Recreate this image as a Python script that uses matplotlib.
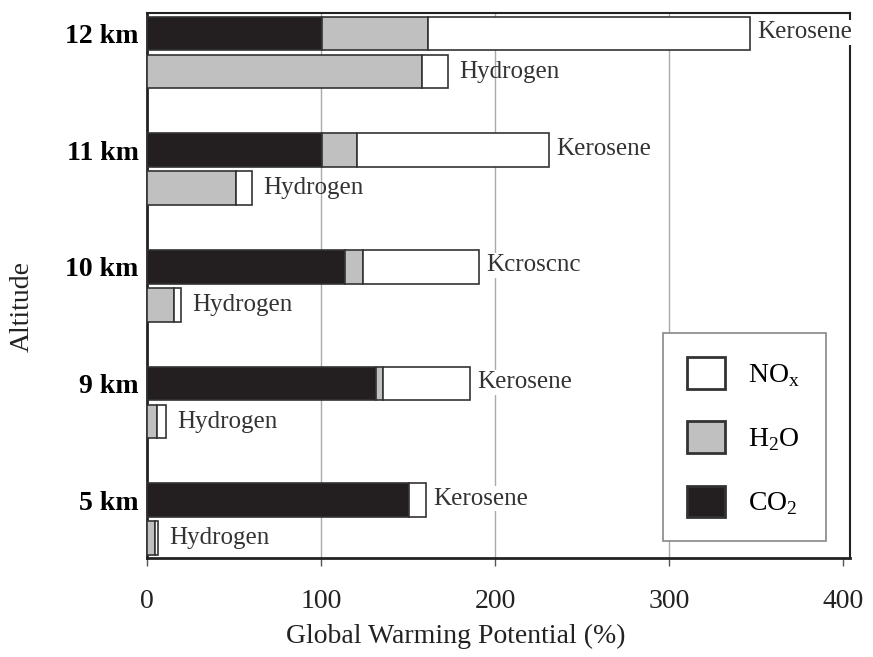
import matplotlib
matplotlib.use("Agg")
import matplotlib.pyplot as plt
from matplotlib.patches import Patch

altitudes = ["12 km", "11 km", "10 km", "9 km", "5 km"]
# Kerosene segments (widths)
ker_co2 = [100.5, 100.4, 114, 131.4, 150.6]
ker_h2o = [61, 20.5, 10, 4.4, 0]
ker_nox = [185, 110, 67, 50, 9.7]
# Hydrogen segments (widths)
hyd_co2 = [0, 0, 0, 0, 0]
hyd_h2o = [158, 51, 15.6, 5.5, 4.5]
hyd_nox = [15, 9.5, 4.2, 5.5, 2.0]
ker_labels = ["Kerosene", "Kerosene", "Kcroscnc", "Kerosene", "Kerosene"]
hyd_labels = ["Hydrogen"] * 5
xticks = [0, 100, 200, 300, 400]

C_CO2 = "#231f20"
C_H2O = "#c0c0c0"
C_NOX = "#ffffff"
EDGE = "#333333"

plt.rcParams['font.family'] = ['Liberation Serif', 'DejaVu Serif']
plt.rcParams['mathtext.fontset'] = 'custom'
plt.rcParams['mathtext.rm'] = 'Liberation Serif'
fig = plt.figure(figsize=(8.73, 6.57), dpi=100)
ax = fig.add_axes([147/873, 1-558/657, 703/873, 545/657])

h = 0.29
off = 0.326
ypos_k = list(range(len(altitudes)))
ypos_h = [y + off for y in ypos_k]

def stack(ys, a, b, c):
    left = [0]*len(ys)
    ax.barh(ys, a, height=h, left=left, color=C_CO2, edgecolor=EDGE, linewidth=1.2, zorder=3)
    left = [l + v for l, v in zip(left, a)]
    ax.barh(ys, b, height=h, left=left, color=C_H2O, edgecolor=EDGE, linewidth=1.2, zorder=3)
    left = [l + v for l, v in zip(left, b)]
    ax.barh(ys, c, height=h, left=left, color=C_NOX, edgecolor=EDGE, linewidth=1.2, zorder=3)
    return [l + v for l, v in zip(left, c)]

tot_k = stack(ypos_k, ker_co2, ker_h2o, ker_nox)
tot_h = stack(ypos_h, hyd_co2, hyd_h2o, hyd_nox)

for y, t, lab in zip(ypos_k, tot_k, ker_labels):
    ax.annotate(lab, (t, y), xytext=(5, 1), textcoords="offset points",
                va="center", ha="left", fontsize=18, color="#333333", zorder=6,
                annotation_clip=False,
                bbox=dict(facecolor="white", edgecolor="none", pad=1))
for y, t, lab in zip(ypos_h, tot_h, hyd_labels):
    ax.annotate(lab, (t, y), xytext=(8, 0), textcoords="offset points",
                va="center", ha="left", fontsize=18, color="#333333", zorder=6)

for xv in xticks[1:-1]:
    ax.axvline(xv, color="#aaaaaa", linewidth=1, zorder=0)

ax.set_xlim(0, 404)
ax.set_ylim(4 + off + 0.17, -0.176)
ax.set_xticks(xticks)
ax.set_xticklabels([str(v) for v in xticks], fontsize=20, color="#222222")
ax.set_yticks(ypos_k)
ax.set_yticklabels(altitudes, fontsize=20, fontweight="bold")
ax.tick_params(axis="x", direction="out", length=6, width=1, pad=16, color="#555555")
ax.tick_params(axis="y", length=0, pad=6)
for s in ["left", "bottom"]:
    ax.spines[s].set_linewidth(2)
    ax.spines[s].set_color("#222222")
for s in ["top", "right"]:
    ax.spines[s].set_linewidth(1.5)
    ax.spines[s].set_color("#222222")

fig.text(456/873, 1-636/657, "Global Warming Potential (%)", fontsize=20,
         color="#222222", ha="center", va="center")
fig.text(22/873, 1-306/657, "Altitude", fontsize=20, color="#222222",
         ha="center", va="center", rotation=90)

handles = [Patch(facecolor=C_NOX, edgecolor=EDGE, linewidth=2, label=r"NO$_\mathregular{x}$"),
           Patch(facecolor=C_H2O, edgecolor=EDGE, linewidth=2, label=r"H$_\mathregular{2}$O"),
           Patch(facecolor=C_CO2, edgecolor=EDGE, linewidth=2, label=r"CO$_\mathregular{2}$")]
leg = ax.legend(handles=handles, loc="lower left",
                bbox_to_anchor=(0.734, 0.031, 0.232, 0.387), mode="expand",
                fontsize=20, handlelength=1.37, handleheight=1.37, labelspacing=1.17,
                handletextpad=0.83, borderpad=0.85, borderaxespad=0, fancybox=False,
                edgecolor="#888888", framealpha=1)
leg.get_frame().set_linewidth(1.2)
leg.set_zorder(10)

fig.savefig("out.png", dpi=100)
